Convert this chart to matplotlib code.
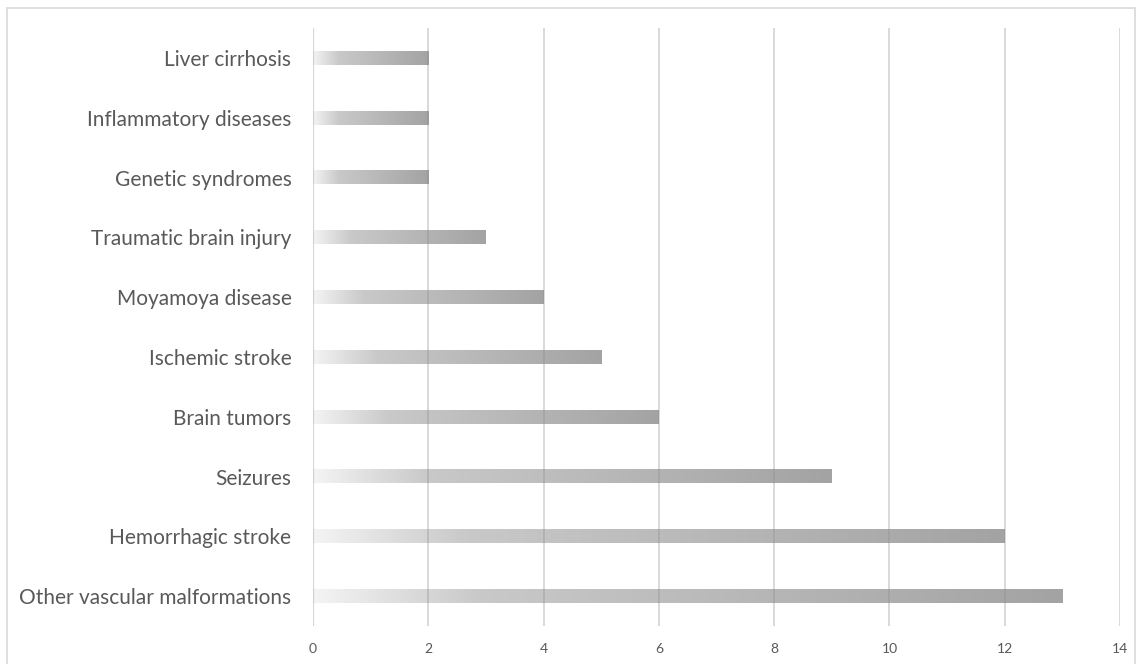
import numpy as np
import matplotlib.pyplot as plt
from matplotlib.colors import LinearSegmentedColormap
from matplotlib.patches import Rectangle

# causes, listed bottom to top
causes = ['Other vascular malformations', 'Hemorrhagic stroke', 'Seizures',
          'Brain tumors', 'Ischemic stroke', 'Moyamoya disease',
          'Traumatic brain injury', 'Genetic syndromes',
          'Inflammatory diseases', 'Liver cirrhosis']
counts = [13, 12, 9, 6, 5, 4, 3, 2, 2, 2]
xticks = [0, 2, 4, 6, 8, 10, 12, 14]

txt = '#595959'
bar_h = 0.23

# light-to-dark fill used along each bar
grad = LinearSegmentedColormap.from_list(
    'bar', [(0.0, '#f4f4f4'), (0.22, '#c9c9c9'), (1.0, '#a3a3a3')])
ramp = np.linspace(0, 1, 256).reshape(1, -1)

fig = plt.figure(figsize=(11.41, 6.64), dpi=100)
ax = fig.add_axes([0.2743, 0.0572, 0.9816 - 0.2743, 0.9578 - 0.0572])

for i, v in enumerate(counts):
    ax.imshow(ramp, cmap=grad, aspect='auto', interpolation='bicubic',
              extent=[0, v, i - bar_h / 2, i + bar_h / 2], zorder=2)

for x in xticks:
    ax.axvline(x, color=(0.55, 0.55, 0.55, 0.35),
               linewidth=1.6 if x == 0 else 1.3, zorder=4)

ax.set_xlim(0, 14)
ax.set_ylim(-0.5, len(causes) - 0.5)
ax.set_xticks(xticks)
ax.set_yticks(range(len(causes)))
ax.set_yticklabels(causes, fontsize=15, color=txt, family='Lato')
ax.set_xticklabels([str(x) for x in xticks], fontsize=10, color=txt,
                   family='Lato')
ax.tick_params(axis='both', length=0)
ax.tick_params(axis='y', pad=15.5)
ax.tick_params(axis='x', pad=12)
for s in ax.spines.values():
    s.set_visible(False)

# chart frame
fig.patches.append(Rectangle((7 / 1141, -0.05), (1135 - 7) / 1141,
                             1.05 - 8 / 664, transform=fig.transFigure,
                             fill=False, edgecolor='#d9d9d9', linewidth=1.2))

fig.savefig('out.png', dpi=100)
